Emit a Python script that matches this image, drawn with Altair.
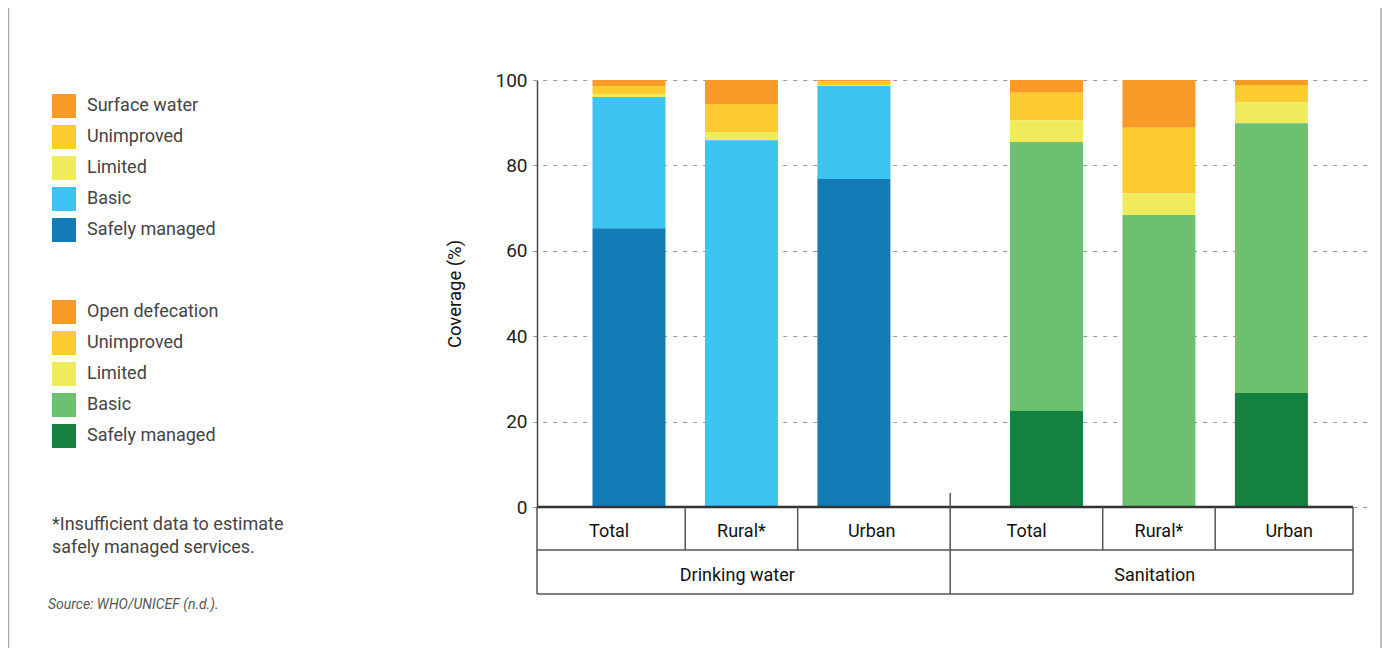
import altair as alt
import pandas as pd

# ---------------- data ----------------
groups = ["Drinking water", "Sanitation"]
subs = ["Total", "Rural*", "Urban"]

water_levels = ["Surface water", "Unimproved", "Limited", "Basic", "Safely managed"]
water_colors = ["#F79A28", "#FCCB30", "#F0EB5C", "#3DC3F0", "#137BB5"]
san_levels = ["Open defecation", "Unimproved", "Limited", "Basic", "Safely managed"]
san_colors = ["#F79A28", "#FCCB30", "#F0EB5C", "#6CC170", "#158141"]

# values per sub category: Total, Rural*, Urban
water_surface = [1.4, 5.6, 0.3]
water_unimproved = [1.9, 6.6, 0.9]
water_limited = [0.7, 1.9, 0.2]
water_basic = [30.7, 85.9, 21.8]
water_safely = [65.3, 0.0, 76.8]

san_open = [3.0, 11.2, 1.2]
san_unimproved = [6.4, 15.3, 4.0]
san_limited = [5.1, 5.1, 4.9]
san_basic = [63.0, 68.4, 63.2]
san_safely = [22.5, 0.0, 26.7]

footnote_lines = ["*Insufficient data to estimate", "safely managed services."]
source_text = ["Source: WHO/UNICEF (n.d.)."]


def build(group, levels, series):
    rows = []
    for lvl, vals in zip(levels, series):
        for s, v in zip(subs, vals):
            rows.append({"group": group, "sub": s, "level": lvl, "value": v,
                         "rank": len(levels) - 1 - levels.index(lvl)})
    return pd.DataFrame(rows)


water_df = build(groups[0], water_levels,
                 [water_surface, water_unimproved, water_limited, water_basic, water_safely])
san_df = build(groups[1], san_levels,
               [san_open, san_unimproved, san_limited, san_basic, san_safely])
table_df = pd.DataFrame([{"group": g, "sub": s} for g in groups for s in subs])
group_df = pd.DataFrame({"group": groups})

# ---------------- layout constants ----------------
W, H = 820, 427
TABLE_R = 816
FONT = "Roboto"
LINE = "#555555"

x_scale = alt.Scale(domain=groups, range=[-4.3, 830.7], paddingInner=0, paddingOuter=0)
xoff_scale = alt.Scale(domain=subs, paddingInner=0, paddingOuter=0.356)
y_axis = alt.Axis(values=[0, 20, 40, 60, 80, 100], ticks=False, labelPadding=10,
                  labelFontSize=19, labelFont=FONT, labelColor="#222",
                  domainColor="#444", domainWidth=1.5,
                  gridColor="#9a9a9a", gridDash=[4, 6], gridWidth=1,
                  titleFont=FONT, titleFontSize=18.5, titleFontWeight="normal",
                  titleColor="#111", titlePadding=30)
y_scale = alt.Scale(domain=[0, 100], nice=False)


def legend(y):
    return alt.Legend(orient="none", legendX=-485, legendY=y, title=None,
                      symbolType="square", symbolSize=576, symbolStrokeWidth=0,
                      symbolOpacity=1, labelFontSize=18, labelFont=FONT,
                      labelColor="#444", rowPadding=7, labelOffset=11, padding=0)


def bars(df, levels, colors, ly):
    return alt.Chart(df).transform_stack(
        stack="value", groupby=["group", "sub"],
        sort=[alt.SortField("rank", order="ascending")], as_=["y0", "y1"]
    ).mark_bar(width=73).encode(
        x=alt.X("group:N", scale=x_scale, axis=None),
        xOffset=alt.XOffset("sub:N", scale=xoff_scale),
        y=alt.Y("y0:Q", scale=y_scale, axis=y_axis, title="Coverage (%)"),
        y2="y1:Q",
        color=alt.Color("level:N", scale=alt.Scale(domain=levels, range=colors),
                        legend=legend(ly)),
    )


water_bars = bars(water_df, water_levels, water_colors, 14)
san_bars = bars(san_df, san_levels, san_colors, 220)

one = pd.DataFrame({"k": [0]})

axis_line = alt.Chart(one).mark_rule(color="#333", strokeWidth=2.5).encode(
    x=alt.value(0), x2=alt.value(TABLE_R), y=alt.value(H))
hline1 = alt.Chart(one).mark_rule(color=LINE, strokeWidth=1.5).encode(
    x=alt.value(0), x2=alt.value(TABLE_R), y=alt.value(H + 43))
hline2 = alt.Chart(one).mark_rule(color=LINE, strokeWidth=1.5).encode(
    x=alt.value(0), x2=alt.value(TABLE_R), y=alt.value(H + 87))
left_edge = alt.Chart(one).mark_rule(color=LINE, strokeWidth=1.5).encode(
    x=alt.value(0), y=alt.value(H), y2=alt.value(H + 87))
right_edge = alt.Chart(one).mark_rule(color=LINE, strokeWidth=1.5).encode(
    x=alt.value(TABLE_R), y=alt.value(H), y2=alt.value(H + 87))
group_sep = alt.Chart(group_df).transform_filter(
    alt.datum.group == groups[1]).mark_rule(color=LINE, strokeWidth=1.5).encode(
    x=alt.X("group:N", bandPosition=0), y=alt.value(H - 14), y2=alt.value(H + 87))
sub_sep1 = alt.Chart(group_df).mark_rule(color=LINE, strokeWidth=1.5).encode(
    x=alt.X("group:N", bandPosition=0.3653), y=alt.value(H), y2=alt.value(H + 43))
sub_sep2 = alt.Chart(group_df).mark_rule(color=LINE, strokeWidth=1.5).encode(
    x=alt.X("group:N", bandPosition=0.6347), y=alt.value(H), y2=alt.value(H + 43))


def sub_text(name, bp):
    return alt.Chart(table_df).transform_filter(alt.datum["sub"] == name).mark_text(
        font=FONT, fontSize=18, color="#111", baseline="middle", align="center").encode(
        x=alt.X("group:N", bandPosition=bp), y=alt.value(H + 25), text="sub:N")


t_total = sub_text("Total", 0.183)
t_rural = sub_text("Rural*", 0.5)
t_urban = sub_text("Urban", 0.812)
t_group = alt.Chart(group_df).mark_text(
    font=FONT, fontSize=18, color="#111", baseline="middle", align="center").encode(
    x=alt.X("group:N", bandPosition=0.49), y=alt.value(H + 69), text="group:N")

foot_layers = []
for i, line in enumerate(footnote_lines):
    foot_layers.append(
        alt.Chart(pd.DataFrame({"t": [line]})).mark_text(
            font=FONT, fontSize=18, color="#444", align="left", baseline="middle"
        ).encode(x=alt.value(-485), y=alt.value(445 + 23 * i), text="t:N"))

src = alt.Chart(pd.DataFrame({"t": source_text})).mark_text(
    font=FONT, fontSize=14, fontStyle="italic", color="#555", align="left",
    baseline="middle").encode(x=alt.value(-489), y=alt.value(525), text="t:N")

frame_l = alt.Chart(one).mark_rule(color="#aaaaaa", strokeWidth=1.5).encode(
    x=alt.value(-528.5), y=alt.value(-72), y2=alt.value(600))
frame_r = alt.Chart(one).mark_rule(color="#aaaaaa", strokeWidth=1.5).encode(
    x=alt.value(844), y=alt.value(-72), y2=alt.value(600))

chart = alt.layer(
    water_bars, san_bars, axis_line, hline1, hline2, left_edge, right_edge,
    group_sep, sub_sep1, sub_sep2, t_total, t_rural, t_urban, t_group,
    *foot_layers, src, frame_l, frame_r
).resolve_scale(color="independent").properties(
    width=W, height=H,
    autosize=alt.AutoSizeParams(type="none"),
    padding={"left": 529, "top": 72, "right": 25, "bottom": 141},
).configure(
    font=FONT, view=alt.ViewConfig(stroke="transparent", strokeWidth=0)
)

chart.save("out.html", embed_options={"renderer": "svg", "actions": False})
